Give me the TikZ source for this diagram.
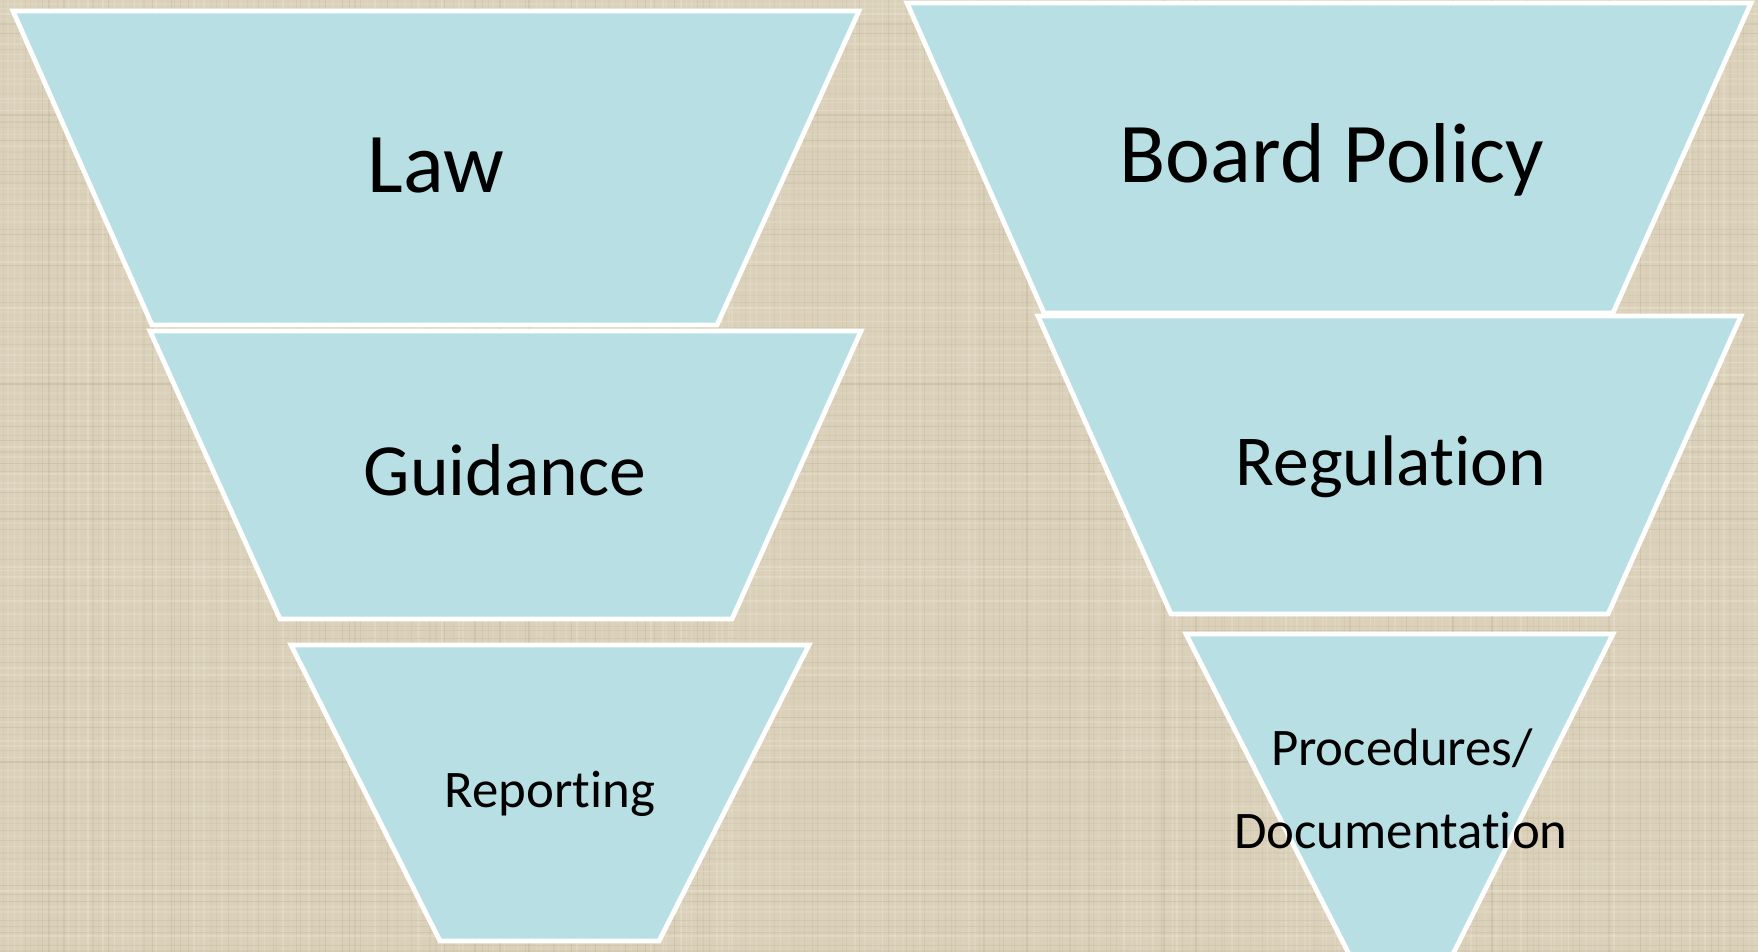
\documentclass[tikz,border=0pt]{standalone}
\usepackage{fontspec}
\setmainfont{Carlito}[Ligatures={NoCommon}]
\definecolor{bgc}{HTML}{DBD1BA}
\definecolor{bgdark}{HTML}{B8AB90}
\definecolor{bglight}{HTML}{F0EAD9}
\definecolor{tealfill}{HTML}{B8DFE3}
\tikzset{
  funnel/.style={fill=tealfill, draw=white, line width=2.4pt, line join=miter},
  lbl/.style={anchor=base, inner sep=0pt, text=black},
}
\begin{document}
\begin{tikzpicture}[x=0.5pt, y=-0.5pt]
\useasboundingbox (0,0) rectangle (1758,952);
\fill[bgc] (0,0) rectangle (1758,952);
\begin{scope}
\clip (0,0) rectangle (1758,952);
\pgfmathsetseed{7}
\foreach \i in {0,...,292} {
  \pgfmathsetmacro{\xx}{\i*6+rnd*4}
  \pgfmathsetmacro{\op}{0.10+0.25*rnd}
  \pgfmathsetmacro{\pick}{rnd}
  \ifdim\pick pt<0.5pt
    \draw[bgdark, opacity=\op, line width=0.6pt] (\xx,0) -- (\xx,952);
  \else
    \draw[bglight, opacity=\op, line width=0.8pt] (\xx,0) -- (\xx,952);
  \fi
}
\foreach \i in {0,...,158} {
  \pgfmathsetmacro{\yy}{\i*6+rnd*4}
  \pgfmathsetmacro{\op}{0.10+0.25*rnd}
  \pgfmathsetmacro{\pick}{rnd}
  \ifdim\pick pt<0.5pt
    \draw[bgdark, opacity=\op, line width=0.6pt] (0,\yy) -- (1758,\yy);
  \else
    \draw[bglight, opacity=\op, line width=0.8pt] (0,\yy) -- (1758,\yy);
  \fi
}
% funnel shapes
\draw[funnel] (13,11) -- (859,11) -- (717,325) -- (152,325) -- cycle;
\draw[funnel] (150,331) -- (861,331) -- (732,619) -- (280,619) -- cycle;
\draw[funnel] (291,645) -- (809,645) -- (659,941) -- (440,941) -- cycle;
\draw[funnel] (907,3) -- (1751,3) -- (1613,313) -- (1044,313) -- cycle;
\draw[funnel] (1038,316) -- (1741,316) -- (1608,614) -- (1171,614) -- cycle;
\draw[funnel] (1186,634) -- (1613,634) -- (1450,960) -- (1352,960) -- cycle;
\end{scope}
% labels
\node[lbl, font=\fontsize{42.5}{50}\selectfont] (law) at (436,193) {Law};
\node[lbl, font=\fontsize{36.8}{42}\selectfont] (guidance) at (505,495) {Guidance};
\node[lbl, font=\fontsize{26.4}{30}\selectfont] (reporting) at (550,807) {Reporting};
\node[lbl, font=\fontsize{42.5}{50}\selectfont] (board) at (1332,183) {Board Policy};
\node[lbl, font=\fontsize{35.8}{42}\selectfont] (regulation) at (1391,486) {Regulation};
\node[lbl, font=\fontsize{26.4}{30}\selectfont] (proc) at (1402,765) {Procedures/};
\node[lbl, font=\fontsize{26.4}{30}\selectfont] (doc) at (1401,848) {Documentation};
\end{tikzpicture}
\end{document}
